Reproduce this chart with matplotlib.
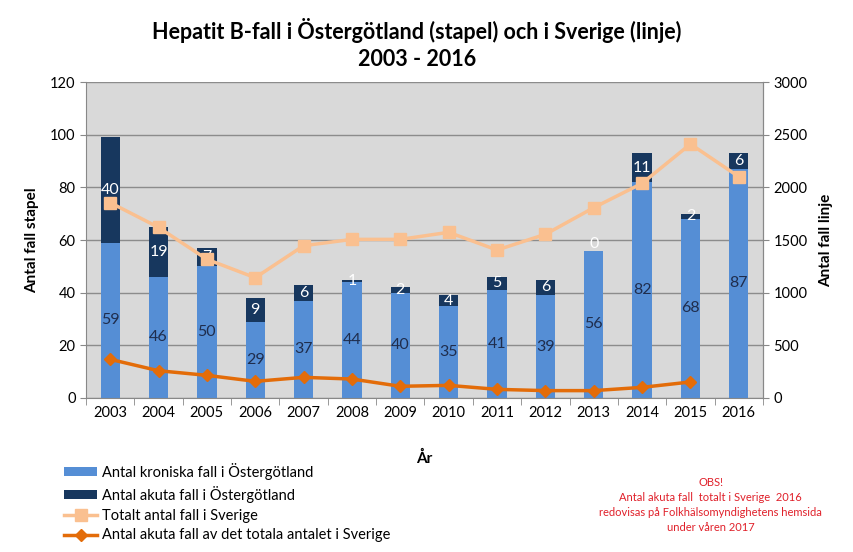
import numpy as np
import matplotlib.pyplot as plt
from matplotlib.ticker import FixedLocator

years = [2003, 2004, 2005, 2006, 2007, 2008, 2009, 2010, 2011, 2012, 2013, 2014, 2015, 2016]
kroniska = [59, 46, 50, 29, 37, 44, 40, 35, 41, 39, 56, 82, 68, 87]
akuta = [40, 19, 7, 9, 6, 1, 2, 4, 5, 6, 0, 11, 2, 6]
totalt_sverige = [1855, 1620, 1317, 1142, 1446, 1506, 1506, 1573, 1405, 1554, 1807, 2038, 2411, 2101]
akuta_sverige = [367, 259, 215, 158, 196, 180, 111, 120, 82, 70, 70, 101, 152]

plt.rcParams['font.family'] = ['Lato', 'DejaVu Sans']

fig = plt.figure(figsize=(8.54, 5.52), dpi=100)
ax = fig.add_axes([0.1007, 0.279, 0.7927, 0.5724])
ax.set_facecolor('#D9D9D9')

x = np.arange(len(years))
w = 0.4
light = '#558ED5'
dark = '#17375E'
ax.bar(x, kroniska, w, color=light, zorder=2, label='Antal kroniska fall i Östergötland')
ax.bar(x, akuta, w, bottom=kroniska, color=dark, zorder=2, label='Antal akuta fall i Östergötland')

for i in range(len(years)):
    ax.text(x[i], kroniska[i] / 2, str(kroniska[i]), ha='center', va='center',
            fontsize=11.5, color='#1F2D4D', zorder=5)
    if akuta[i] > 0:
        ax.text(x[i], kroniska[i] + akuta[i] / 2, str(akuta[i]), ha='center', va='center',
                fontsize=11.5, color='white', zorder=5)
    else:
        ax.text(x[i], kroniska[i] + 2.5, str(akuta[i]), ha='center', va='center',
                fontsize=11.5, color='white', zorder=5)

ax.set_ylim(0, 120)
ax.set_xlim(-0.5, len(years) - 0.5)
ax.set_yticks(range(0, 121, 20))
ax.set_xticks(x)
ax.set_xticklabels([str(y) for y in years], fontsize=10.5)
ax.xaxis.set_minor_locator(FixedLocator(np.arange(-0.5, len(years), 1)))
ax.tick_params(axis='x', which='major', length=0, pad=6)
ax.tick_params(axis='x', which='minor', length=5, color='#888888')
ax.tick_params(axis='y', labelsize=10.5, length=4, color='#888888')
ax.grid(axis='y', color='#8C8C8C', linewidth=1, zorder=0)
ax.set_axisbelow(True)
ax.spines['top'].set_visible(False)
for s in ['left', 'bottom', 'right']:
    ax.spines[s].set_color('#888888')
ax.set_ylabel('Antal fall stapel', fontsize=11, fontweight='bold', labelpad=8)
ax.set_xlabel('År', fontsize=11, fontweight='bold', labelpad=22)

ax2 = ax.twinx()
ax2.set_ylim(0, 3000)
ax2.set_yticks(range(0, 3001, 500))
ax2.tick_params(axis='y', labelsize=10.5, length=4, color='#888888')
for s in ['top', 'left', 'bottom']:
    ax2.spines[s].set_visible(False)
ax2.spines['right'].set_color('#888888')
ax2.plot(x, totalt_sverige, color='#FAC090', linewidth=2.5, marker='s', markersize=9,
         label='Totalt antal fall i Sverige', zorder=3)
ax2.plot(x[:len(akuta_sverige)], akuta_sverige, color='#E36C09', linewidth=2.5, marker='D',
         markersize=6, label='Antal akuta fall av det totala antalet i Sverige', zorder=3)
ax2.set_ylabel('Antal fall linje', fontsize=11, fontweight='bold', labelpad=8)

fig.text(0.488, 0.968, 'Hepatit B-fall i Östergötland (stapel) och i Sverige (linje)\n2003 - 2016',
         ha='center', va='top', fontsize=15.5, fontweight='bold', linespacing=1.4)

h1, l1 = ax.get_legend_handles_labels()
h2, l2 = ax2.get_legend_handles_labels()
fig.legend(h1 + h2, l1 + l2, loc='upper left', bbox_to_anchor=(0.068, 0.172), frameon=False,
           fontsize=10.5, handlelength=2.3, handleheight=0.6, labelspacing=0.4,
           borderaxespad=0, handletextpad=0.3)

fig.text(0.832, 0.085, 'OBS!\nAntal akuta fall  totalt i Sverige  2016\nredovisas på Folkhälsomyndighetens hemsida\nunder våren 2017',
         ha='center', va='center', fontsize=8, color='#E0202A', linespacing=1.45)

fig.savefig('out.png', dpi=100)
